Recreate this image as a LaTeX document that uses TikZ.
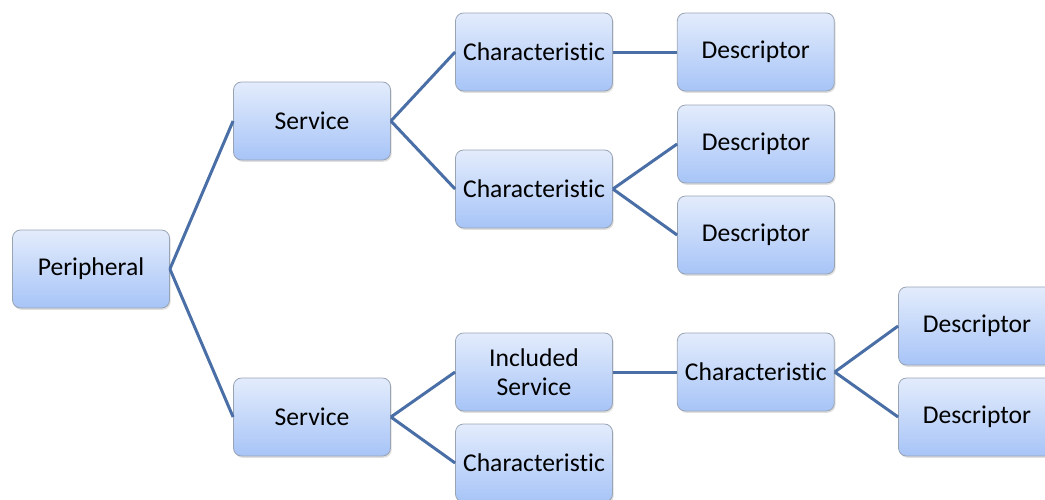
\documentclass[tikz,border=0pt]{standalone}
\usepackage{fontspec}
\setmainfont[Ligatures=NoCommon]{Carlito}
\usepackage{tikz}
\usetikzlibrary{positioning}
\usetikzlibrary{shadows}
\definecolor{myline}{HTML}{4A6EA6}
\definecolor{mytop}{HTML}{E3ECFC}
\definecolor{mybottom}{HTML}{A7C4F7}
\definecolor{myedge}{HTML}{98A4B4}
\tikzset{x=0.5pt, y=-0.5pt, node distance=32pt, every text node part/.style={align=center, font={\fontsize{12.8}{14.5}\selectfont}}}
\tikzstyle{block} = [draw=myedge, rounded corners=4pt, top color=mytop, bottom color=mybottom, minimum width=78.5pt, minimum height=39pt, inner sep=2pt, drop shadow={opacity=0.25, shadow xshift=0.6pt, shadow yshift=-0.9pt}]
\tikzstyle{ln} = [draw=myline, line width=1.5pt]

\begin{document}
\begin{tikzpicture}
  \useasboundingbox (0,0) rectangle (1045,499);
  \clip (0,0) rectangle (1045,499);
  \node[block] (peri) at (91,269) {Peripheral};
  \node[block] (serv-1) at (312,121) {Service};
  \node[block] (serv-2) at (312,417) {Service};
  \node[block] (char-1) at (534,52) {Characteristic};
  \node[block, right=of char-1] (desc-1) {Descriptor};
  \node[block] (char-2) at (534,189) {Characteristic};
  \node[block] (desc-2) at (756,144) {Descriptor};
  \node[block] (desc-3) at (756,235) {Descriptor};
  \node[block] (incl) at (534,372) {Included\\Service};
  \node[block, right=of incl] (char-4) {Characteristic};
  \node[block] (char-3) at (534,463) {Characteristic};
  \node[block] (desc-4) at (977,326) {Descriptor};
  \node[block] (desc-5) at (977,417) {Descriptor};
  \path[ln] (peri.east) -- (serv-1.west);
  \path[ln] (peri.east) -- (serv-2.west);
  \path[ln] (serv-1.east) -- (char-1.west);
  \path[ln] (serv-1.east) -- (char-2.west);
  \path[ln] (char-1.east) -- (desc-1.west);
  \path[ln] (char-2.east) -- (desc-2.west);
  \path[ln] (char-2.east) -- (desc-3.west);
  \path[ln] (serv-2.east) -- (incl.west);
  \path[ln] (serv-2.east) -- (char-3.west);
  \path[ln] (incl.east) -- (char-4.west);
  \path[ln] (char-4.east) -- (desc-4.west);
  \path[ln] (char-4.east) -- (desc-5.west);
\end{tikzpicture}
\end{document}
